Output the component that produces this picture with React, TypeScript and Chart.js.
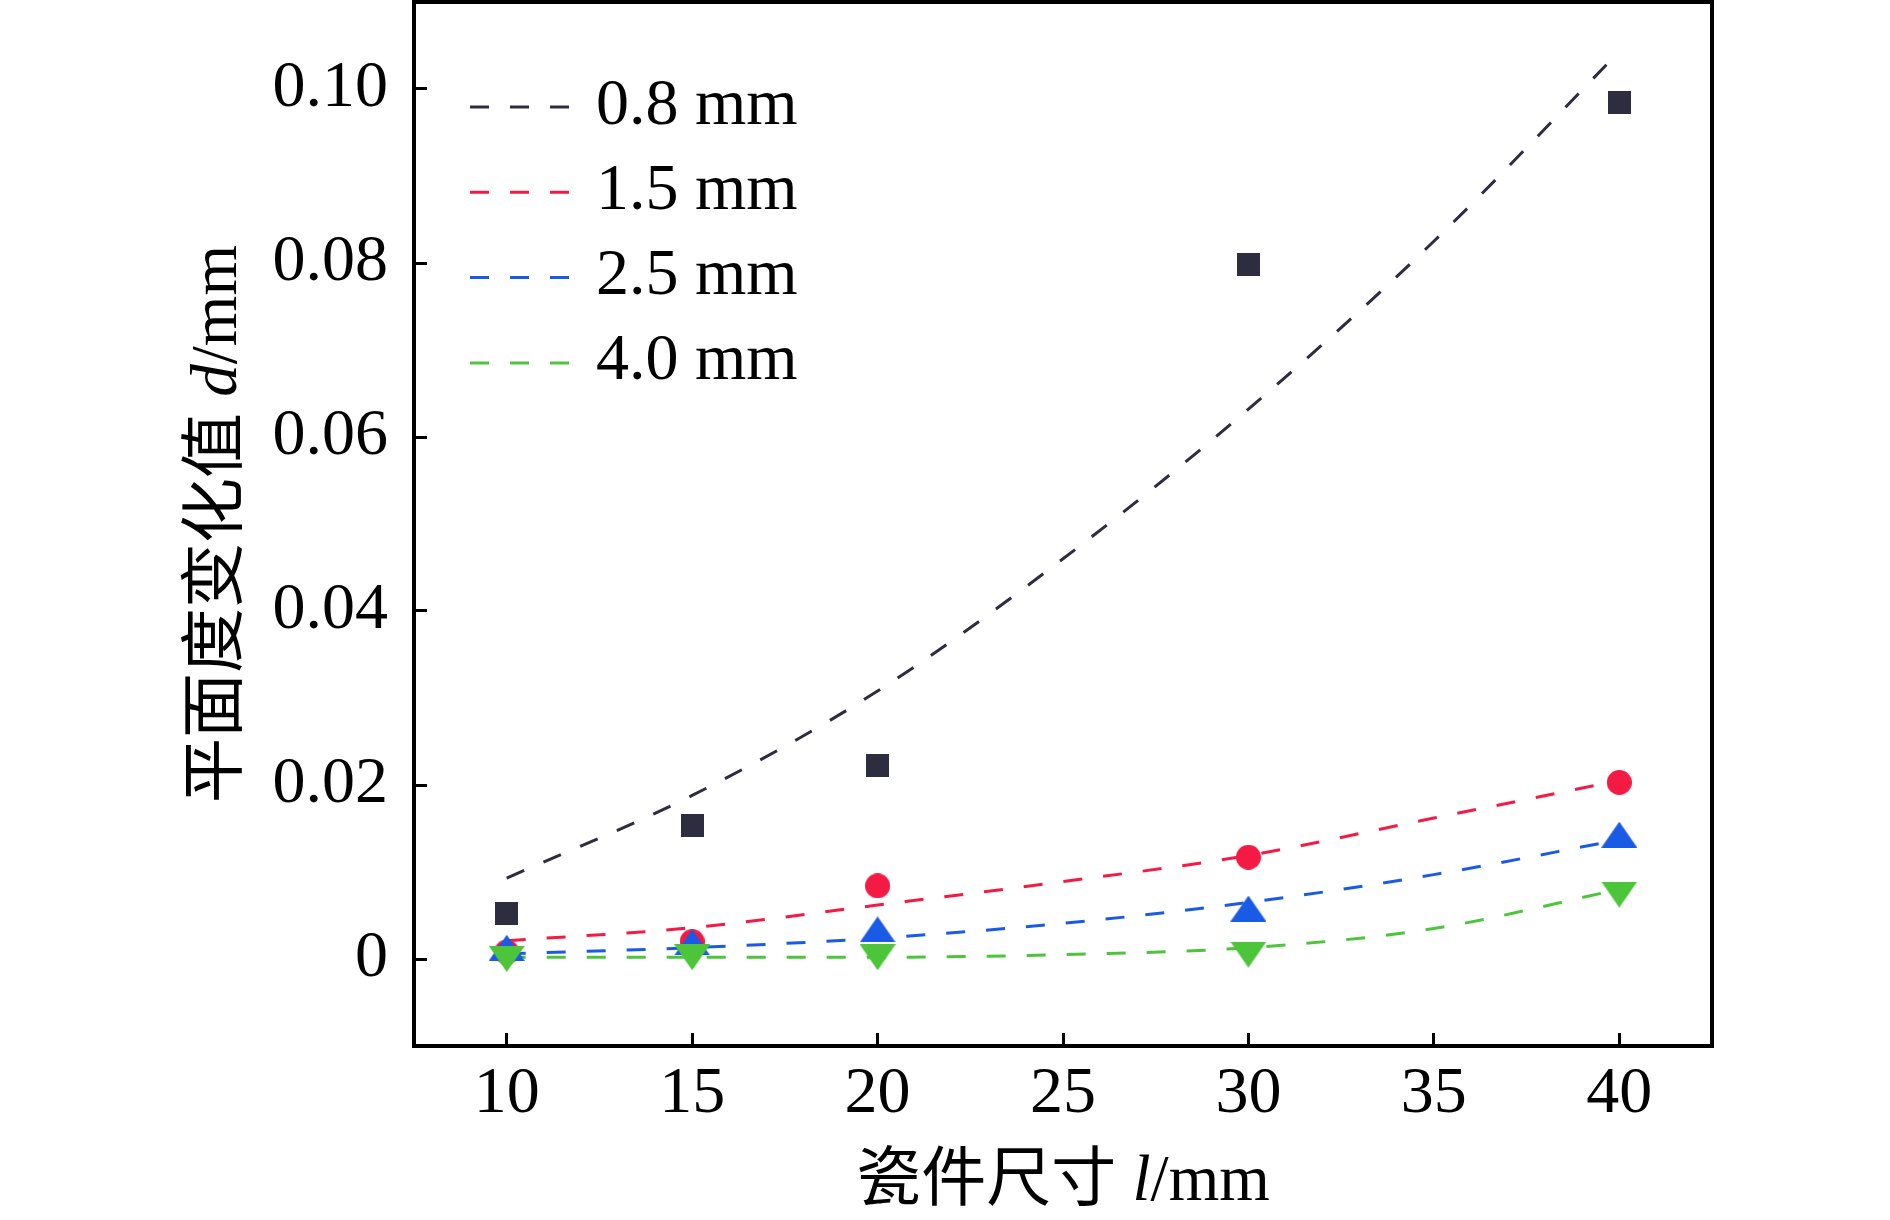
import React, { useEffect, useRef } from 'react';
import { Chart, registerables } from 'chart.js';

Chart.register(...registerables);

// ---------- data ----------
const SIZES = [10, 15, 20, 30, 40];
const FIT_X = [10, 15, 20, 25, 30, 35, 40];
const LABELS = ['0.8 mm', '1.5 mm', '2.5 mm', '4.0 mm'];
const COLORS = ['#2e2d3f', '#f41a43', '#1a5be6', '#4cc53a'];

const MEAS_08 = [0.0052, 0.0154, 0.0222, 0.0798, 0.0984];
const MEAS_15 = [0.0008, 0.002, 0.0084, 0.0117, 0.0203];
const MEAS_25 = [0.0013, 0.0019, 0.0034, 0.0058, 0.0143];
const MEAS_40 = [0.0, 0.0002, 0.0002, 0.0005, 0.0074];

const FIT_08 = [0.0093, 0.0188, 0.0308, 0.046, 0.0632, 0.0825, 0.1043];
const FIT_15 = [0.0021, 0.0036, 0.0062, 0.0089, 0.0119, 0.0162, 0.0205];
const FIT_25 = [0.0006, 0.0013, 0.0024, 0.0041, 0.0065, 0.0097, 0.0137];
const FIT_40 = [0.0002, 0.0002, 0.0002, 0.0005, 0.0013, 0.0035, 0.008];

const X_TICKS = [10, 15, 20, 25, 30, 35, 40];
const Y_TICKS = [0, 0.02, 0.04, 0.06, 0.08, 0.1];

const X_TITLE = ['瓷件尺寸', 'l', '/mm'];
const Y_TITLE = ['平面度变化值', 'd', '/mm'];

// ---------- styling ----------
const SERIF = '"Liberation Serif", "Times New Roman", serif';
const CJK = '"Noto Sans CJK SC", sans-serif';
const TICK_FONT_SIZE = 66;
const TITLE_FONT_SIZE = 65;

function makeMarker(shape: string, color: string): HTMLCanvasElement {
  const c = document.createElement('canvas');
  let w = 23, h = 23;
  if (shape === 'circle') { w = 25; h = 25; }
  if (shape === 'up' || shape === 'down') { w = 36; h = 26; }
  c.width = w; c.height = h;
  const g = c.getContext('2d')!;
  g.fillStyle = color;
  g.beginPath();
  if (shape === 'square') {
    g.rect(0, 0, w, h);
  } else if (shape === 'circle') {
    g.arc(w / 2, h / 2, w / 2, 0, Math.PI * 2);
  } else if (shape === 'up') {
    g.moveTo(w / 2, 0); g.lineTo(w, h); g.lineTo(0, h); g.closePath();
  } else {
    g.moveTo(0, 0); g.lineTo(w, 0); g.lineTo(w / 2, h); g.closePath();
  }
  g.fill();
  return c;
}

type Part = { t: string; f: string };

function drawParts(ctx: CanvasRenderingContext2D, parts: Part[], cx: number, baseline: number) {
  let total = 0;
  const widths = parts.map((p) => { ctx.font = p.f; const w = ctx.measureText(p.t).width; total += w; return w; });
  let x = cx - total / 2;
  ctx.textBaseline = 'alphabetic';
  ctx.textAlign = 'left';
  parts.forEach((p, i) => { ctx.font = p.f; ctx.fillText(p.t, x, baseline); x += widths[i]; });
}

function titleParts(t: string[]): Part[] {
  return [
    { t: t[0], f: `${TITLE_FONT_SIZE}px ${CJK}` },
    { t: ' ', f: `${TITLE_FONT_SIZE}px ${SERIF}` },
    { t: t[1], f: `italic ${TITLE_FONT_SIZE}px ${SERIF}` },
    { t: t[2], f: `${TITLE_FONT_SIZE}px ${SERIF}` },
  ];
}

const decorPlugin = {
  id: 'decor',
  afterDraw(chart: any) {
    const { ctx, chartArea: a } = chart;
    ctx.save();
    // frame
    ctx.strokeStyle = '#000';
    ctx.lineWidth = 4;
    ctx.setLineDash([]);
    ctx.strokeRect(a.left, a.top, a.right - a.left, a.bottom - a.top);

    // axis titles
    ctx.fillStyle = '#000';
    drawParts(ctx, titleParts(X_TITLE), (a.left + a.right) / 2, 1200);
    ctx.save();
    ctx.translate(236, (a.top + a.bottom) / 2);
    ctx.rotate(-Math.PI / 2);
    drawParts(ctx, titleParts(Y_TITLE), 0, 0);
    ctx.restore();

    // legend
    const fits = chart.data.datasets.filter((d: any) => d.isFit);
    fits.forEach((d: any, i: number) => {
      const ly = 107 + i * 85.3;
      ctx.strokeStyle = d.borderColor;
      ctx.lineWidth = 3;
      ctx.setLineDash(d.borderDash);
      ctx.lineDashOffset = 0;
      ctx.beginPath();
      ctx.moveTo(470, ly);
      ctx.lineTo(569, ly);
      ctx.stroke();
      ctx.setLineDash([]);
      ctx.fillStyle = '#000';
      ctx.font = `${TICK_FONT_SIZE}px ${SERIF}`;
      ctx.textAlign = 'left';
      ctx.textBaseline = 'alphabetic';
      ctx.fillText(d.label, 596, ly + 16.5);
    });
    ctx.restore();
  },
};

export default function App() {
  const ref = useRef<HTMLCanvasElement | null>(null);

  useEffect(() => {
    document.body.style.margin = '0';
    const canvas = ref.current!;
    const meas = [MEAS_08, MEAS_15, MEAS_25, MEAS_40];
    const fits = [FIT_08, FIT_15, FIT_25, FIT_40];
    const shapes = ['square', 'circle', 'up', 'down'];

    const fitSets = fits.map((vals, i) => ({
      label: LABELS[i],
      isFit: true,
      data: FIT_X.map((x, j) => ({ x, y: vals[j] })),
      showLine: true,
      borderColor: COLORS[i],
      backgroundColor: COLORS[i],
      borderWidth: 3,
      borderDash: [19, 21],
      pointRadius: 0,
      pointHoverRadius: 0,
      cubicInterpolationMode: 'monotone',
      fill: false,
      order: 10,
    }));
    const pointSets = meas.map((vals, i) => ({
      label: LABELS[i] + ' data',
      isFit: false,
      data: SIZES.map((x, j) => ({ x, y: vals[j] })),
      showLine: false,
      pointStyle: makeMarker(shapes[i], COLORS[i]),
      pointRadius: 13,
      pointHoverRadius: 13,
      borderColor: COLORS[i],
      backgroundColor: COLORS[i],
      order: 4 - i,
      clip: false,
    }));

    const chart = new Chart(canvas, {
      type: 'scatter',
      data: { datasets: [...fitSets, ...pointSets] as any },
      options: {
        animation: false,
        responsive: false,
        devicePixelRatio: 1,
        layout: { autoPadding: false, padding: { left: 0, right: 178, top: 2, bottom: 0 } },
        plugins: { legend: { display: false }, title: { display: false }, tooltip: { enabled: false } },
        events: [],
        scales: {
          x: {
            type: 'linear',
            min: 7.5,
            max: 42.5,
            afterBuildTicks: (s: any) => { s.ticks = X_TICKS.map((v) => ({ value: v })); },
            afterFit: (s: any) => { s.height = 174; s.paddingLeft = 0; s.paddingRight = 0; s.paddingTop = 0; s.paddingBottom = 0; },
            border: { display: false },
            grid: { display: true, drawOnChartArea: false, drawTicks: true, tickLength: -13, tickWidth: 3, tickColor: '#000' },
            ticks: {
              padding: 22,
              color: '#000',
              maxRotation: 0,
              autoSkip: false,
              font: { family: SERIF, size: TICK_FONT_SIZE },
              callback: (v: any) => String(v),
            },
          },
          y: {
            type: 'linear',
            min: -0.01,
            max: 0.11,
            afterBuildTicks: (s: any) => { s.ticks = Y_TICKS.map((v) => ({ value: v })); },
            afterFit: (s: any) => { s.width = 414; s.paddingTop = 0; s.paddingBottom = 0; s.paddingLeft = 0; s.paddingRight = 0; },
            border: { display: false },
            grid: { display: true, drawOnChartArea: false, drawTicks: true, tickLength: -13, tickWidth: 3, tickColor: '#000' },
            ticks: {
              padding: 39,
              color: '#000',
              autoSkip: false,
              font: { family: SERIF, size: TICK_FONT_SIZE },
              callback: (v: any) => (Number(v) === 0 ? '0' : Number(v).toFixed(2)),
            },
          },
        },
      } as any,
      plugins: [decorPlugin as any],
    });
    return () => chart.destroy();
  }, []);

  return (
    <div style={{ width: 1890, height: 1220, background: '#fff' }}>
      <canvas ref={ref} width={1890} height={1220} style={{ display: 'block', width: 1890, height: 1220 }} />
    </div>
  );
}
